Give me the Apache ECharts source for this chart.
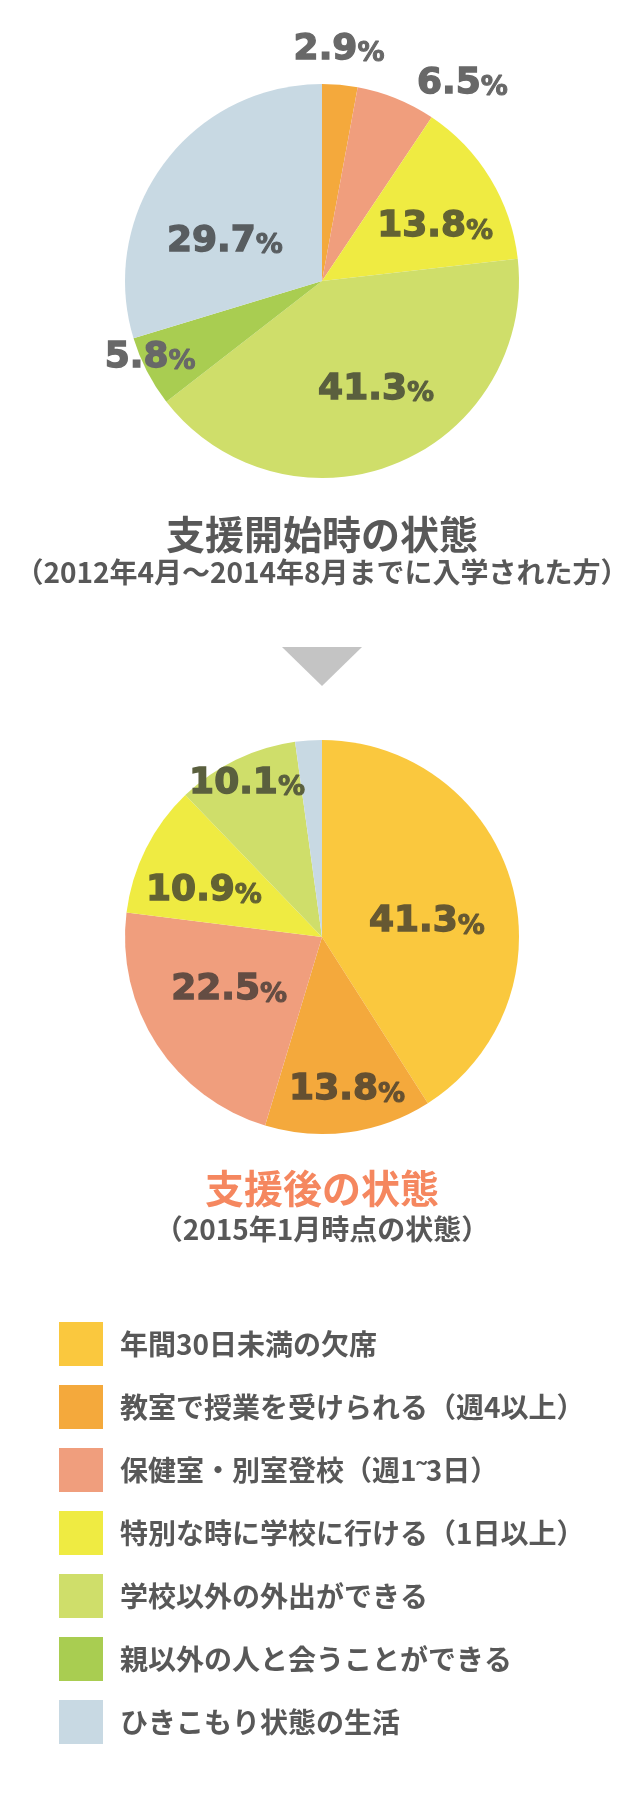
<!DOCTYPE html>
<html lang="ja">
<head>
<meta charset="utf-8">
<title>支援開始時と支援後の状態</title>
<script src="https://cdn.jsdelivr.net/npm/echarts@6/dist/echarts.min.js"></script>
<style>
    html, body { margin: 0; padding: 0; background: #fff; }
    #chart { width: 643px; height: 1795px; }
</style>
</head>
<body>
<div id="chart"></div>
<script>
// 区分（凡例の順）
var categories = [
    '年間30日未満の欠席',
    '教室で授業を受けられる（週4以上）',
    '保健室・別室登校（週1˜3日）',
    '特別な時に学校に行ける（1日以上）',
    '学校以外の外出ができる',
    '親以外の人と会うことができる',
    'ひきこもり状態の生活'
];
var categoryColors = ['#FAC83E', '#F4A93C', '#F09E7D', '#EFEB42', '#CFDE6A', '#A9CD51', '#C8D9E3'];

// 支援開始時（％）
var beforeValues = [0, 2.9, 6.5, 13.8, 41.3, 5.8, 29.7];
// 支援後（％）ひきこもりは図から読み取った概算、ラベルなし
var afterValues = [41.3, 13.8, 22.5, 10.9, 10.1, 0, 2.2];

// ラベル位置 [角度(上から時計回り), 半径比]
var beforeLabelSpots = [null, [4.2, 1.18], [35.4, 1.23], [64.5, 0.636], [153.6, 0.617], [245.9, 0.956], [291.9, 0.531]];
var afterLabelSpots = [[81.9, 0.538], [170.7, 0.787], [240.3, 0.543], [291.3, 0.643], [333.9, 0.865], null, null];

var titles = ['支援開始時の状態', '支援後の状態'];
var subtitles = ['（2012年4月～2014年8月までに入学された方）', '（2015年1月時点の状態）'];

var pieRadius = 197;
var pieCenters = [[322, 281], [322, 937]];
var labelFont = '"DejaVu Sans", "Liberation Sans", sans-serif';
var jpFont = '"Noto Sans CJK JP", "Noto Sans CJK SC", sans-serif';

// 濃いグレーを下地の色に重ねた色（半透明の文字に見えるように）
function labelTint(bg) {
    var a = 0.72, dark = 45;
    var r = parseInt(bg.slice(1, 3), 16), g = parseInt(bg.slice(3, 5), 16), b = parseInt(bg.slice(5, 7), 16);
    var mix = function(c) { return Math.round(c * (1 - a) + dark * a); };
    return 'rgb(' + mix(r) + ',' + mix(g) + ',' + mix(b) + ')';
}

function buildData(values, spots) {
    var out = [];
    values.forEach(function(v, i) {
        if (!v) return;
        var spot = spots[i];
        var c = spot ? labelTint(spot[1] > 0.9 ? '#FFFFFF' : categoryColors[i]) : '#666';
        out.push({
            name: categories[i],
            value: v,
            spot: spot,
            itemStyle: { color: categoryColors[i] },
            label: {
                show: !!spot,
                rich: {
                    n: { color: c, textBorderColor: c },
                    p: { color: c, textBorderColor: c }
                }
            }
        });
    });
    return out;
}

function makePie(values, spots, center) {
    var data = buildData(values, spots);
    return {
        type: 'pie',
        center: center,
        radius: pieRadius,
        startAngle: 90,
        clockwise: true,
        silent: true,
        avoidLabelOverlap: false,
        itemStyle: { borderWidth: 0 },
        labelLine: { show: false },
        label: {
            position: 'inside',
            formatter: function(p) {
                return '{n|' + p.value.toFixed(1) + '}{p|%}';
            },
            rich: {
                n: {
                    fontFamily: labelFont, fontWeight: 'bold', fontSize: 36,
                    textBorderWidth: 1.4, verticalAlign: 'bottom', lineHeight: 36
                },
                p: {
                    fontFamily: labelFont, fontWeight: 'bold', fontSize: 27,
                    textBorderWidth: 1, verticalAlign: 'bottom', lineHeight: 30
                }
            }
        },
        labelLayout: function(params) {
            var spot = data[params.dataIndex].spot;
            if (!spot) return {};
            var a = spot[0] * Math.PI / 180;
            var d = spot[1] * pieRadius;
            return {
                x: center[0] + d * Math.sin(a),
                y: center[1] - d * Math.cos(a),
                align: 'center',
                verticalAlign: 'middle'
            };
        },
        data: data
    };
}

function textEl(str, y, size, color) {
    return {
        type: 'text',
        x: 322,
        y: y,
        style: {
            text: str,
            fontFamily: jpFont,
            fontWeight: 'bold',
            fontSize: size,
            fill: color,
            align: 'center',
            verticalAlign: 'middle'
        }
    };
}

var myChart = echarts.init(document.getElementById('chart'));

var option = {
    animation: false,
    backgroundColor: '#fff',
    legend: {
        orient: 'vertical',
        left: 59,
        top: 1322,
        padding: 0,
        itemWidth: 44,
        itemHeight: 44,
        itemGap: 19,
        icon: 'rect',
        selectedMode: false,
        itemStyle: { borderWidth: 0 },
        data: categories,
        textStyle: {
            fontFamily: jpFont,
            fontWeight: 'bold',
            fontSize: 28,
            color: '#585858',
            padding: [0, 0, 0, 12]
        }
    },
    graphic: [
        textEl(titles[0], 534, 39, '#585858'),
        textEl(subtitles[0], 572, 28, '#585858'),
        {
            type: 'polygon',
            shape: { points: [[282, 647], [362, 647], [322, 686]] },
            style: { fill: '#C4C4C4' }
        },
        textEl(titles[1], 1188, 39, '#F5875F'),
        textEl(subtitles[1], 1229, 28, '#585858')
    ],
    series: [
        makePie(beforeValues, beforeLabelSpots, pieCenters[0]),
        makePie(afterValues, afterLabelSpots, pieCenters[1])
    ]
};
myChart.setOption(option);
</script>
</body>
</html>
